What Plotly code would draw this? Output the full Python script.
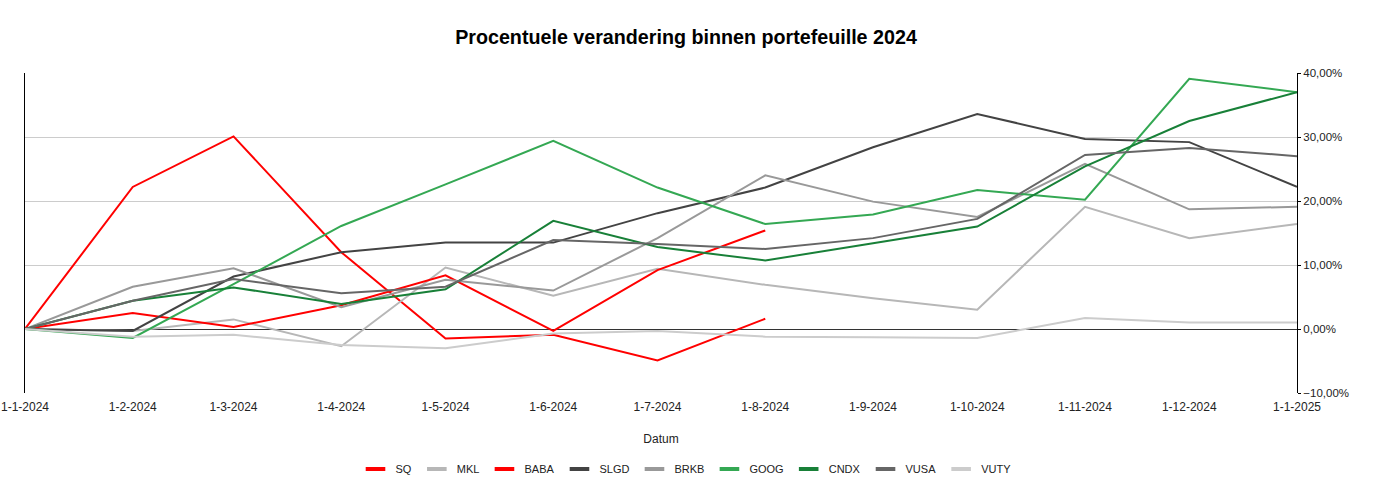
import plotly.graph_objects as go

dates = ["2024-01-01", "2024-02-01", "2024-03-01", "2024-04-01", "2024-05-01", "2024-06-01",
         "2024-07-01", "2024-08-01", "2024-09-01", "2024-10-01", "2024-11-01", "2024-12-01", "2025-01-01"]
tick_labels = ["1-1-2024", "1-2-2024", "1-3-2024", "1-4-2024", "1-5-2024", "1-6-2024", "1-7-2024",
               "1-8-2024", "1-9-2024", "1-10-2024", "1-11-2024", "1-12-2024", "1-1-2025"]

SQ   = [0, 22.2, 30.1, 12.0, -1.5, -0.9, -4.9, 1.6]
MKL  = [0, -0.3, 1.5, -2.7, 9.6, 5.2, 9.4, 6.9, 4.8, 3.0, 19.1, 14.2, 16.4]
BABA = [0, 2.5, 0.3, 3.7, 8.4, -0.3, 9.2, 15.4]
SLGD = [0, -0.3, 8.2, 12.0, 13.5, 13.5, 18.1, 22.1, 28.4, 33.6, 29.7, 29.2, 22.2]
BRKB = [0, 6.6, 9.5, 3.4, 7.7, 6.0, 14.2, 24.0, 19.9, 17.5, 25.8, 18.7, 19.1]
GOOG = [0, -1.4, 7.0, 16.1, 22.6, 29.4, 22.1, 16.4, 17.9, 21.7, 20.2, 39.1, 37.0]
CNDX = [0, 4.4, 6.5, 3.9, 6.2, 16.9, 12.8, 10.7, 13.4, 16.0, 25.4, 32.5, 37.0]
VUSA = [0, 4.4, 7.8, 5.6, 6.6, 13.9, 13.3, 12.5, 14.2, 17.2, 27.2, 28.3, 27.0]
VUTY = [0, -1.2, -0.9, -2.5, -3.0, -0.7, -0.3, -1.2, -1.3, -1.4, 1.7, 1.0, 1.0]

series = [
    ("SQ", SQ, "#ff0000"),
    ("MKL", MKL, "#b7b7b7"),
    ("BABA", BABA, "#ff0000"),
    ("SLGD", SLGD, "#434343"),
    ("BRKB", BRKB, "#999999"),
    ("GOOG", GOOG, "#34a853"),
    ("CNDX", CNDX, "#188038"),
    ("VUSA", VUSA, "#666666"),
    ("VUTY", VUTY, "#cccccc"),
]

fig = go.Figure()
for name, vals, color in series:
    fig.add_trace(go.Scatter(
        x=dates[:len(vals)], y=[v / 100 for v in vals], name=name, mode="lines",
        line=dict(color=color, width=2), showlegend=False, legendgroup=name,
    ))
# legend entries: short thick dashes like the reference
for name, vals, color in series:
    fig.add_trace(go.Scatter(
        x=[None], y=[None], name=name, mode="markers", legendgroup=name,
        marker=dict(symbol="line-ew", size=14, color=color, line=dict(color=color, width=4)),
    ))

W, H = 1374, 502
font_family = "Liberation Sans, Arial, sans-serif"
fig.update_layout(
    width=W, height=H,
    margin=dict(l=25, r=77, t=73, b=109, autoexpand=False),
    paper_bgcolor="white", plot_bgcolor="white",
    separators=",.",
    font=dict(family=font_family, size=11, color="#222222"),
    title=dict(text="<b>Procentuele verandering binnen portefeuille 2024</b>",
               x=686 / W, xanchor="center", xref="container", y=1 - 37 / H, yanchor="middle", yref="container",
               font=dict(size=19.7, color="#000000", family=font_family)),
    xaxis=dict(
        type="date", range=["2024-01-01", "2025-01-01"], automargin=False,
        tickvals=dates, ticktext=tick_labels, tickangle=0, ticklabeloverflow="allow",
        ticks="outside", ticklen=3, tickcolor="rgba(0,0,0,0)",
        showgrid=False, zeroline=False, showline=False,
        title=dict(text="Datum", standoff=21, font=dict(size=12, color="#222222")),
        tickfont=dict(size=12, color="#222222"),
    ),
    yaxis=dict(
        side="right", range=[-0.10, 0.40], dtick=0.10, tickformat=".2%", automargin=False,
        ticklabeloverflow="allow",
        showgrid=True, gridcolor="#cccccc", gridwidth=1,
        zeroline=True, zerolinecolor="#333333", zerolinewidth=1,
        showline=True, mirror=True, linecolor="#000000", linewidth=1,
        ticks="outside", ticklen=3, tickcolor="#000000",
        tickfont=dict(size=11.5, color="#222222"),
    ),
    legend=dict(orientation="h", x=(686 - 25) / 1272, xanchor="center", y=-0.2375, yanchor="middle",
                itemwidth=30, itemsizing="trace", font=dict(size=11, color="#222222"), traceorder="normal"),
    showlegend=True,
)

fig.write_html("out.html", config={"displayModeBar": False},
               post_script="document.body.style.margin='0';")
